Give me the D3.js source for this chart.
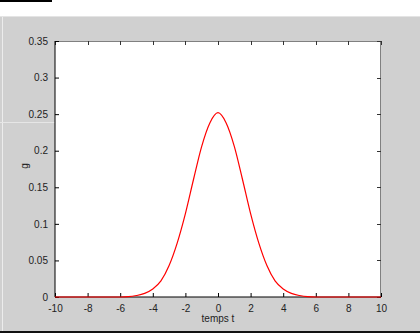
<!DOCTYPE html>
<html>
<head>
<meta charset="utf-8">
<script src="https://cdn.jsdelivr.net/npm/d3@7"></script>
<style>
  body { margin: 0; background: #fff; }
  svg { display: block; }
  text { font-family: "Liberation Sans", Arial, sans-serif; font-size: 10px; fill: #222; }
</style>
</head>
<body>
<div id="fig"></div>
<script>
// values
const tVals = [-10, -9.5, -9, -8.5, -8, -7.5, -7, -6.5, -6, -5.5, -5, -4.5, -4, -3.5, -3, -2.5, -2, -1.5, -1, -0.5,
               0, 0.5, 1, 1.5, 2, 2.5, 3, 3.5, 4, 4.5, 5, 5.5, 6, 6.5, 7, 7.5, 8, 8.5, 9, 9.5, 10];
const gVals = [0, 0, 0, 0, 0, 0, 0, 0, 0, 0.0004, 0.002, 0.005, 0.011, 0.022, 0.043, 0.074, 0.114, 0.161, 0.206, 0.238,
               0.252, 0.238, 0.206, 0.161, 0.114, 0.074, 0.043, 0.022, 0.011, 0.005, 0.002, 0.0004, 0, 0, 0, 0, 0, 0, 0, 0, 0];
const xTicks = [-10, -8, -6, -4, -2, 0, 2, 4, 6, 8, 10];
const yTicks = [0, 0.05, 0.1, 0.15, 0.2, 0.25, 0.3, 0.35];
const xLabel = "temps t";
const yLabel = "g";

const W = 420, H = 333;
const box = {left: 55, right: 381, top: 41, bottom: 297};

const svg = d3.select("#fig").append("svg")
    .attr("width", W)
    .attr("height", H);

// figure window background
svg.append("rect").attr("x", 0).attr("y", 0).attr("width", W).attr("height", H).attr("fill", "#fff");
svg.append("rect").attr("x", 0).attr("y", 16).attr("width", W).attr("height", 315).attr("fill", "#d0d0d0");
svg.append("rect").attr("x", 0).attr("y", 0).attr("width", 52).attr("height", 2).attr("fill", "#000");
svg.append("line").attr("x1", 0).attr("x2", W).attr("y1", 16.5).attr("y2", 16.5).attr("stroke", "#e4e4e4");
svg.append("line").attr("x1", 2.5).attr("x2", 2.5).attr("y1", 17).attr("y2", 331).attr("stroke", "#ececec");
svg.append("line").attr("x1", 0).attr("x2", box.left).attr("y1", 122.5).attr("y2", 122.5).attr("stroke", "#e6e6e6");
svg.append("rect").attr("x", 0).attr("y", 331).attr("width", W).attr("height", 2).attr("fill", "#111");

const x = d3.scaleLinear().domain([-10, 10]).range([box.left, box.right]);
const y = d3.scaleLinear().domain([0, 0.35]).range([box.bottom, box.top]);

// plot area
svg.append("rect")
    .attr("x", box.left).attr("y", box.top)
    .attr("width", box.right - box.left).attr("height", box.bottom - box.top)
    .attr("fill", "#fff");

// top / right frame in gray with inward ticks
svg.append("line").attr("x1", box.left).attr("x2", box.right).attr("y1", box.top + 0.5).attr("y2", box.top + 0.5).attr("stroke", "#808080");
svg.append("line").attr("x1", box.right - 0.5).attr("x2", box.right - 0.5).attr("y1", box.top).attr("y2", box.bottom).attr("stroke", "#808080");

svg.append("g").selectAll("line").data(xTicks).join("line")
    .attr("x1", d => Math.round(x(d)) + 0.5).attr("x2", d => Math.round(x(d)) + 0.5)
    .attr("y1", box.top).attr("y2", box.top + 4)
    .attr("stroke", "#333");
svg.append("g").selectAll("line").data(yTicks).join("line")
    .attr("x1", box.right - 4).attr("x2", box.right)
    .attr("y1", d => Math.round(y(d)) + 0.5).attr("y2", d => Math.round(y(d)) + 0.5)
    .attr("stroke", "#333");

// bottom and left axes, ticks pointing inward (plain hyphen minus like the original)
const xAxis = d3.axisBottom(x).tickValues(xTicks).tickSize(-4).tickPadding(8).tickFormat(d => String(d));
const yAxis = d3.axisLeft(y).tickValues(yTicks).tickSize(-4).tickPadding(7).tickFormat(d => String(d));

const gx = svg.append("g")
    .attr("transform", `translate(0,${box.bottom})`)
    .call(xAxis);
const gy = svg.append("g")
    .attr("transform", `translate(${box.left},0)`)
    .call(yAxis);

[gx, gy].forEach(g => {
    g.select(".domain").attr("stroke", "#000");
    g.selectAll(".tick line").attr("stroke", "#000");
    g.selectAll(".tick text")
        .attr("font-family", "Liberation Sans, Arial, sans-serif")
        .attr("font-size", 10)
        .attr("fill", "#222");
});
gy.select(".domain").attr("d", `M0,${box.bottom}V${box.top}`);
gx.select(".domain").attr("d", `M${box.left},0H${box.right}`);

// axis labels
svg.append("text")
    .attr("x", (box.left + box.right) / 2)
    .attr("y", 322)
    .attr("text-anchor", "middle")
    .text(xLabel);
svg.append("text")
    .attr("transform", `translate(28,166) rotate(-90)`)
    .attr("text-anchor", "middle")
    .text(yLabel);

// curve
const pts = tVals.map((t, i) => ({t: t, g: gVals[i]}));
const line = d3.line()
    .x(d => x(d.t))
    .y(d => y(d.g))
    .curve(d3.curveMonotoneX);

svg.append("path")
    .datum(pts)
    .attr("fill", "none")
    .attr("stroke", "#ff0000")
    .attr("stroke-width", 1.2)
    .attr("d", line);
</script>
</body>
</html>
